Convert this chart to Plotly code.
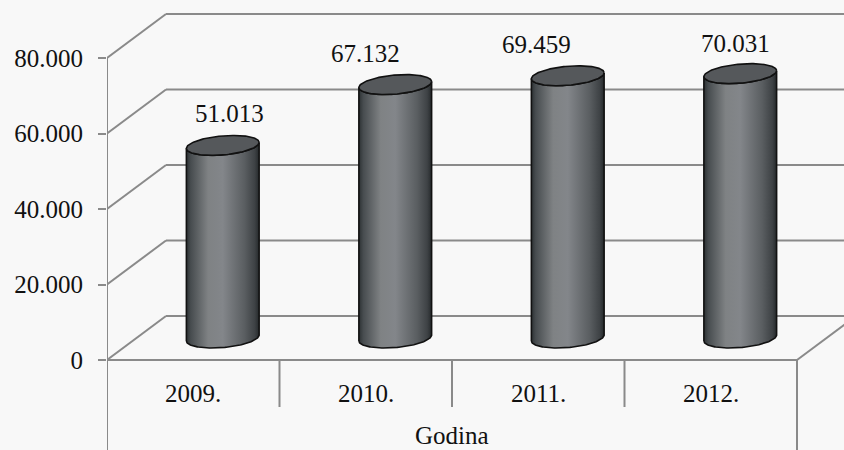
import numpy as np
import plotly.graph_objects as go

# ---- data ----
categories = ["2009.", "2010.", "2011.", "2012."]
values = [51013, 67132, 69459, 70031]
y_ticks = [0, 20000, 40000, 60000, 80000]
x_title = "Godina"

# ---- style / layout constants ----
W, H = 844, 450
LEFT = 107           # px of category 0 / front y axis
PX_PER_CAT = 172.5   # px per category
ZERO_PX = 360        # px (from top) of value 0 on the front plane
PX_PER_VAL = (360 - 58) / 80000.0
DEPTH_PX = (59, 44)  # oblique depth offset (right, up)
BG = "#f8f8f8"
GRID = "#8a8a8a"
FONT = "Times New Roman, Liberation Serif, Tinos, DejaVu Serif, serif"
FSIZE = 25
label_dx = [0.04, -0.175, -0.18, -0.025]   # label horizontal nudges (category units)

DX = DEPTH_PX[0] / PX_PER_CAT
DY = DEPTH_PX[1] / PX_PER_VAL

x_range = [0, (W - LEFT) / PX_PER_CAT]
y_range = [-(H - ZERO_PX) / PX_PER_VAL, ZERO_PX / PX_PER_VAL]
ncat = len(categories)

fig = go.Figure()
shapes = []


def line(x0, y0, x1, y1, color=GRID, width=2):
    shapes.append(dict(type="line", xref="x", yref="y", x0=x0, y0=y0, x1=x1, y1=y1,
                       line=dict(color=color, width=width), layer="below"))


# back wall + side wall gridlines
for v in y_ticks:
    line(0, v, DX, v + DY)
    line(DX, v + DY, x_range[1] + 1, v + DY)
# floor front edge & right edge
line(0, 0, ncat, 0)
line(ncat, 0, ncat + DX, DY)
# front vertical axis line
line(0, y_ticks[-1], 0, y_range[0])
# category box dividers
div_bottom = -(407 - ZERO_PX) / PX_PER_VAL
for i in range(1, ncat):
    line(i, 0, i, div_bottom)
line(ncat, 0, ncat, y_range[0])

# ---- cylinders ----
a_px, b_px, alpha = 36.5, 9.5, np.deg2rad(5)
grad = [[0.0, "#2c3133"], [0.06, "#474c4f"], [0.3, "#7f8284"], [0.5, "#83868a"],
        [0.8, "#5a5e61"], [0.94, "#3e4245"], [1.0, "#25292b"]]


def ellipse_pts(cx, cy, t):
    xp = a_px * np.cos(t) * np.cos(alpha) - b_px * np.sin(t) * np.sin(alpha)
    yp = a_px * np.cos(t) * np.sin(alpha) + b_px * np.sin(t) * np.cos(alpha)
    return cx + xp / PX_PER_CAT, cy + yp / PX_PER_VAL


t_r = np.arctan(-(b_px / a_px) * np.tan(alpha))
t_lower = np.linspace(t_r + np.pi, t_r + 2 * np.pi, 80)
t_full = np.linspace(0, 2 * np.pi, 160)

for i, v in enumerate(values):
    cx = i + 0.5 + DX / 2
    base = DY / 2
    top = v + DY / 2
    bx, by = ellipse_pts(cx, base, t_lower)
    tx, ty = ellipse_pts(cx, top, t_lower[::-1])
    xs = np.concatenate([bx, tx, bx[:1]])
    ys = np.concatenate([by, ty, by[:1]])
    fig.add_trace(go.Scatter(x=xs, y=ys, mode="lines", fill="toself",
                             fillgradient=dict(type="horizontal", colorscale=grad),
                             line=dict(color="#111111", width=1.6),
                             hoverinfo="skip", showlegend=False))
    ex, ey = ellipse_pts(cx, top, t_full)
    fig.add_trace(go.Scatter(x=ex, y=ey, mode="lines", fill="toself",
                             fillcolor="#55585b",
                             line=dict(color="#111111", width=1.6),
                             hoverinfo="skip", showlegend=False))

# ---- annotations ----
annotations = []
tfont = dict(family=FONT, size=FSIZE, color="#111111")
cap = (ZERO_PX - 43) / PX_PER_VAL
for i, v in enumerate(values):
    ly = min(v + DY / 2 + 31.5 / PX_PER_VAL, cap)
    annotations.append(dict(x=i + 0.5 + DX / 2 + label_dx[i], y=ly, xref="x", yref="y",
                            text=f"{v:,}".replace(",", "."), showarrow=False,
                            xanchor="center", yanchor="middle", font=tfont))
cat_y = -(393 - ZERO_PX) / PX_PER_VAL
for i, c in enumerate(categories):
    annotations.append(dict(x=i + 0.5, y=cat_y, xref="x", yref="y", text=c,
                            showarrow=False, xanchor="center", yanchor="middle", font=tfont))
annotations.append(dict(x=ncat / 2, y=-(450 - ZERO_PX) / PX_PER_VAL, xref="x", yref="y",
                        text=x_title, showarrow=False, xanchor="center", yanchor="bottom",
                        borderpad=0, font=tfont))

fig.update_layout(
    width=W, height=H,
    margin=dict(l=LEFT, r=0, t=0, b=0),
    paper_bgcolor=BG, plot_bgcolor=BG,
    separators=",.",
    shapes=shapes, annotations=annotations,
    showlegend=False,
    xaxis=dict(range=x_range, visible=False, fixedrange=True),
    yaxis=dict(range=y_range, tickvals=y_ticks, tickformat=",d",
               ticks="outside", ticklen=8, tickwidth=2, tickcolor=GRID,
               ticklabelstandoff=10, showgrid=False, zeroline=False, showline=False,
               tickfont=tfont, fixedrange=True),
)

fig.write_html("out.html")
